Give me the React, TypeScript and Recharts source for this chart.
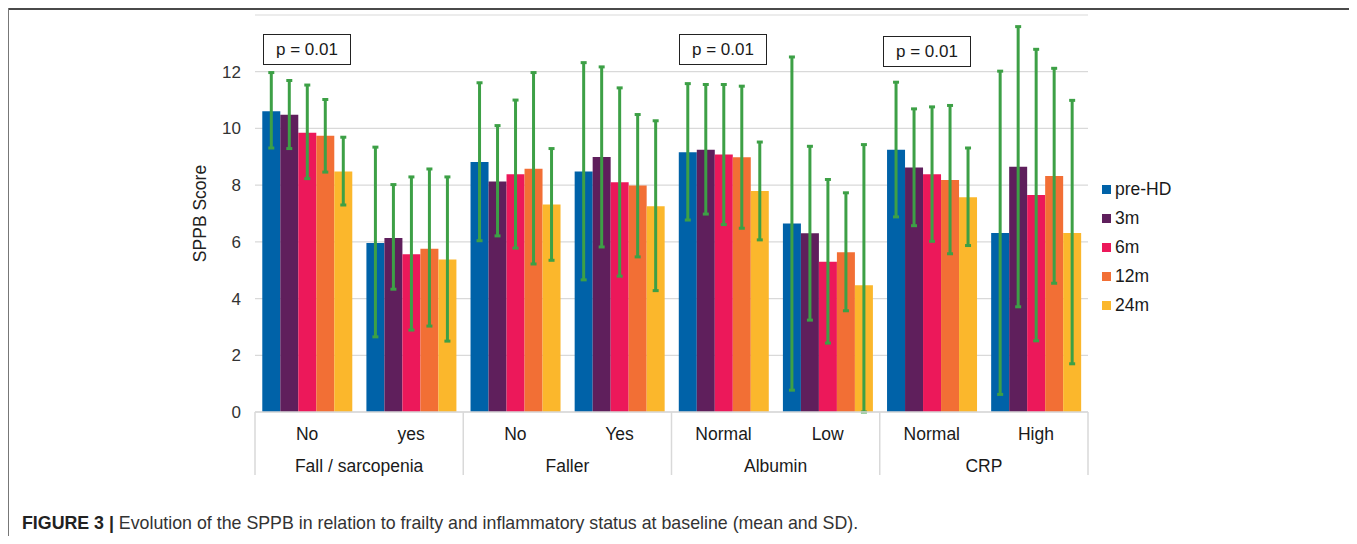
import React from 'react';
import { BarChart, Bar, XAxis, YAxis, CartesianGrid, ErrorBar } from 'recharts';

const subLabels = ['No', 'yes', 'No', 'Yes', 'Normal', 'Low', 'Normal', 'High'];
const groupLabels = ['Fall / sarcopenia', 'Faller', 'Albumin', 'CRP'];
const yTicks = [0, 2, 4, 6, 8, 10, 12];

const seriesKeys = ['preHD', 'm3', 'm6', 'm12', 'm24'];
const seriesNames = ['pre-HD', '3m', '6m', '12m', '24m'];
const seriesColors = ['#0062A8', '#5F1F5C', '#EC185A', '#F26F35', '#FBB72C'];

const meanPreHD = [10.61, 5.96, 8.82, 8.48, 9.16, 6.65, 9.25, 6.31];
const meanM3 = [10.48, 6.14, 8.13, 8.99, 9.25, 6.3, 8.62, 8.65];
const meanM6 = [9.85, 5.56, 8.38, 8.1, 9.08, 5.3, 8.38, 7.65];
const meanM12 = [9.74, 5.76, 8.58, 7.99, 8.98, 5.63, 8.18, 8.32];
const meanM24 = [8.48, 5.38, 7.32, 7.26, 7.79, 4.47, 7.57, 6.31];

const upperPreHD = [11.97, 9.34, 11.61, 12.32, 11.58, 12.52, 11.63, 12.02];
const upperM3 = [11.69, 8.02, 10.1, 12.17, 11.55, 9.37, 10.69, 13.59];
const upperM6 = [11.53, 8.29, 11.0, 11.43, 11.55, 8.2, 10.76, 12.79];
const upperM12 = [11.02, 8.57, 11.97, 10.49, 11.49, 7.73, 10.81, 12.12];
const upperM24 = [9.69, 8.29, 9.29, 10.27, 9.52, 9.43, 9.31, 10.99];

const lowerPreHD = [9.31, 2.65, 6.04, 4.66, 6.77, 0.77, 6.88, 0.62];
const lowerM3 = [9.29, 4.33, 6.21, 5.82, 6.98, 3.24, 6.57, 3.71];
const lowerM6 = [8.23, 2.89, 5.78, 4.79, 6.61, 2.43, 6.02, 2.51];
const lowerM12 = [8.46, 3.03, 5.22, 5.47, 6.48, 3.57, 5.58, 4.54];
const lowerM24 = [7.3, 2.5, 5.35, 4.28, 6.07, 0, 5.87, 1.7];

const means = [meanPreHD, meanM3, meanM6, meanM12, meanM24];
const uppers = [upperPreHD, upperM3, upperM6, upperM12, upperM24];
const lowers = [lowerPreHD, lowerM3, lowerM6, lowerM12, lowerM24];

const pLabels = ['p = 0.01', 'p = 0.01', 'p = 0.01'];

const data = subLabels.map((label, i) => {
  const row: any = { id: `${i}`, label };
  seriesKeys.forEach((k, s) => {
    row[k] = means[s][i];
    row[`${k}_err`] = [means[s][i] - lowers[s][i], uppers[s][i] - means[s][i]];
  });
  return row;
});

const CHART_W = 1341;
const CHART_H = 528;
const MARGIN = { top: 7, right: 261, bottom: 0, left: 187 };
const Y_AXIS_W = 60;
const X_AXIS_H = 124;
const PLOT_LEFT = MARGIN.left + Y_AXIS_W;
const PLOT_W = CHART_W - MARGIN.right - PLOT_LEFT;
const PLOT_BOTTOM = CHART_H - MARGIN.bottom - X_AXIS_H;
const CAT_W = PLOT_W / subLabels.length;
const FONT = '"Liberation Sans", Arial, sans-serif';

const XTick = (props: any) => {
  const { x, index } = props;
  const half = CAT_W / 2;
  const isFirst = index % 2 === 0;
  const isLast = index === subLabels.length - 1;
  return (
    <g>
      <text x={x} y={PLOT_BOTTOM + 28} textAnchor="middle" fontSize={17.5} fill="#1a1a1a" fontFamily={FONT}>
        {subLabels[index]}
      </text>
      {isFirst && (
        <line x1={x - half} x2={x - half} y1={PLOT_BOTTOM} y2={PLOT_BOTTOM + 63} stroke="#d9d9d9" strokeWidth={1.5} />
      )}
      {isFirst && (
        <text x={x + half} y={PLOT_BOTTOM + 60} textAnchor="middle" fontSize={17.5} fill="#1a1a1a" fontFamily={FONT}>
          {groupLabels[index / 2]}
        </text>
      )}
      {isLast && (
        <line x1={x + half} x2={x + half} y1={PLOT_BOTTOM} y2={PLOT_BOTTOM + 63} stroke="#d9d9d9" strokeWidth={1.5} />
      )}
    </g>
  );
};

const pBoxPos = [
  { left: 255, top: 26 },
  { left: 671, top: 26 },
  { left: 875, top: 28 },
];

export default function App() {
  return (
    <div style={{ position: 'relative', width: 1348, height: 528, fontFamily: FONT }}>
      <div style={{ position: 'absolute', left: 0, top: 0, width: 1348, height: 2, background: '#4a4a4a' }} />
      <div style={{ position: 'absolute', left: -1, top: 0, width: 2, height: 536, background: '#777' }} />
      <div style={{ position: 'absolute', left: 1345, top: 0, width: 2, height: 536, background: '#777' }} />
      <div style={{ position: 'absolute', left: 0, top: 0 }}>
        <BarChart
          width={CHART_W}
          height={CHART_H}
          data={data}
          margin={MARGIN}
          barCategoryGap="7%"
          barGap={0}
        >
          <CartesianGrid vertical={false} stroke="#d9d9d9" strokeWidth={1.2} />
          <XAxis
            dataKey="id"
            height={X_AXIS_H}
            interval={0}
            tickLine={false}
            axisLine={{ stroke: '#d9d9d9', strokeWidth: 1.5 }}
            tick={(p: any) => <XTick {...p} />}
          />
          <YAxis
            width={Y_AXIS_W}
            domain={[0, 14]}
            ticks={yTicks}
            axisLine={false}
            tickLine={false}
            tickSize={6}
            tickMargin={8}
            tick={{ fontSize: 17, fill: '#333', fontFamily: FONT }}
            label={{
              value: 'SPPB Score',
              angle: -90,
              position: 'insideLeft',
              offset: 5,
              style: { textAnchor: 'middle', fontSize: 17.5, fill: '#222', fontFamily: FONT },
            }}
          />
          {seriesKeys.map((k, s) => (
            <Bar key={k} dataKey={k} name={seriesNames[s]} fill={seriesColors[s]} isAnimationActive={false}>
              <ErrorBar
                dataKey={`${k}_err`}
                direction="y"
                width={3}
                strokeWidth={3}
                stroke="#3DA046"
                isAnimationActive={false}
              />
            </Bar>
          ))}
        </BarChart>
      </div>
      {pBoxPos.map((pos, i) => (
        <div
          key={i}
          style={{
            position: 'absolute',
            left: pos.left,
            top: pos.top,
            width: 88,
            height: 31,
            boxSizing: 'border-box',
            border: '1.5px solid #222',
            background: '#fff',
            display: 'flex',
            alignItems: 'center',
            justifyContent: 'center',
            fontSize: 17,
            color: '#1a1a1a',
          }}
        >
          {pLabels[i]}
        </div>
      ))}
      <div style={{ position: 'absolute', left: 1094, top: 166.5 }}>
        {seriesNames.map((n, s) => (
          <div key={n} style={{ height: 29, display: 'flex', alignItems: 'center' }}>
            <div style={{ width: 9, height: 9, background: seriesColors[s], marginRight: 4 }} />
            <span style={{ fontSize: 17.5, color: '#1a1a1a' }}>{n}</span>
          </div>
        ))}
      </div>
      <div style={{ position: 'absolute', left: 14, top: 505, fontSize: 17.8, color: '#333', whiteSpace: 'nowrap' }}>
        <b style={{ color: '#222' }}>FIGURE 3 |</b> Evolution of the SPPB in relation to frailty and inflammatory status at baseline (mean and SD).
      </div>
    </div>
  );
}
